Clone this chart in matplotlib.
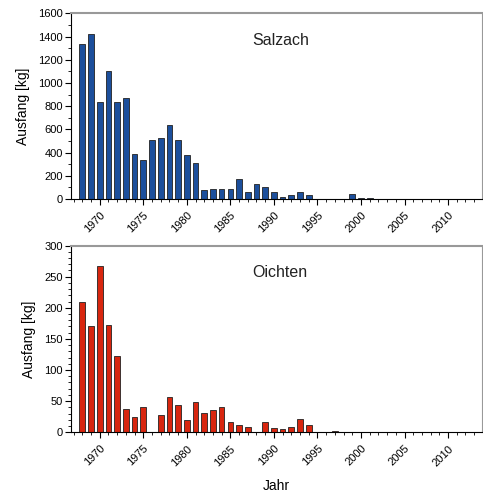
import matplotlib
matplotlib.use('Agg')
import matplotlib.pyplot as plt
from matplotlib.ticker import MultipleLocator

plt.rcParams['font.family'] = ['Liberation Sans', 'DejaVu Sans']

# Ausfang per year, 1968 onwards
years = list(range(1968, 2002))
salzach = [1333, 1422, 834, 1101, 840, 872, 387, 333, 513, 525,
           642, 507, 381, 310, 80, 90, 86, 85, 175, 58,
           126, 102, 64, 14, 36, 63, 34, 0, 0, 0,
           3, 42, 9, 8]
oichten = [209, 171, 267, 173, 123, 38, 25, 41, 0, 28,
           56, 43, 20, 49, 31, 36, 40, 16, 12, 8,
           0, 17, 7, 5, 8, 21, 11, 0, 0, 2,
           0, 0, 0, 0]
xticks = [1970, 1975, 1980, 1985, 1990, 1995, 2000, 2005, 2010]

fig = plt.figure(figsize=(4.83, 4.94), dpi=100)
ax1 = fig.add_axes([0.147, 0.597, 0.851, 0.376])
ax2 = fig.add_axes([0.147, 0.125, 0.851, 0.378])

def style(ax, data, color, ymax, ymaj, ymin, name):
    ax.bar(years, data, width=0.65, color=color, edgecolor='#222222', linewidth=0.6, zorder=2)
    ax.set_xlim(1966.7, 2013.9)
    ax.set_ylim(0, ymax)
    ax.yaxis.set_major_locator(MultipleLocator(ymaj))
    ax.yaxis.set_minor_locator(MultipleLocator(ymin))
    ax.set_xticks(xticks)
    ax.xaxis.set_minor_locator(MultipleLocator(1))
    ax.set_xticklabels([str(x) for x in xticks], rotation=45, ha='right', rotation_mode='anchor')
    ax.tick_params(axis='both', which='major', direction='out', length=4, width=0.8, labelsize=8, pad=2)
    ax.tick_params(axis='both', which='minor', direction='out', length=2, width=0.6)
    ax.tick_params(axis='x', which='major', pad=4)
    ax.spines['top'].set_color('#999999')
    ax.spines['top'].set_linewidth(1.5)
    ax.spines['right'].set_color('#999999')
    ax.spines['right'].set_linewidth(0.8)
    ax.set_ylabel('Ausfang [kg]', fontsize=10, labelpad=6)
    ax.text(0.44, 0.83, name, transform=ax.transAxes, fontsize=11.5, color='#222222')

style(ax1, salzach, '#1c4f9c', 1600, 200, 100, 'Salzach')
style(ax2, oichten, '#d8260f', 300, 50, 10, 'Oichten')
ax2.set_xlabel('Jahr', fontsize=10, labelpad=8)

fig.savefig('out.png', dpi=100)
